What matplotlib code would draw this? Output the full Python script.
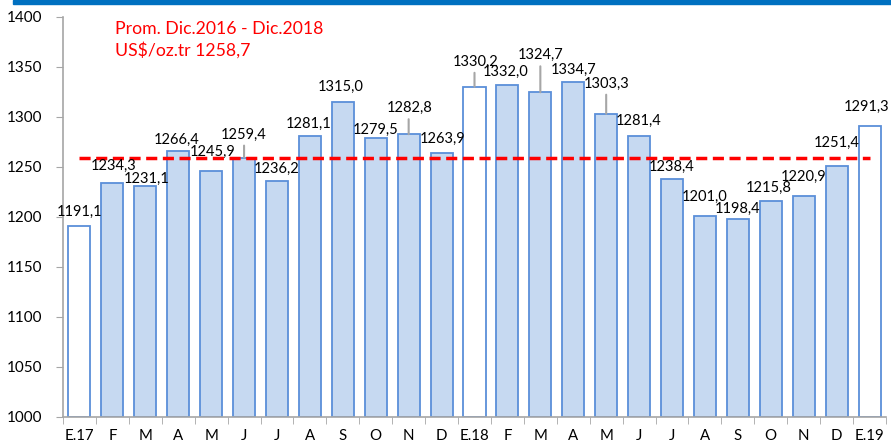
import numpy as np
import matplotlib
matplotlib.use("Agg")
import matplotlib.pyplot as plt
from matplotlib.patches import Rectangle

plt.rcParams["font.family"] = ["Lato", "DejaVu Sans"]

meses = ["E.17", "F", "M", "A", "M", "J", "J", "A", "S", "O", "N", "D",
         "E.18", "F", "M", "A", "M", "J", "J", "A", "S", "O", "N", "D", "E.19"]
precios = [1191.1, 1234.3, 1231.1, 1266.4, 1245.9, 1259.4, 1236.2, 1281.1,
           1315.0, 1279.5, 1282.8, 1263.9, 1330.2, 1332.0, 1324.7, 1334.7,
           1303.3, 1281.4, 1238.4, 1201.0, 1198.4, 1215.8, 1220.9, 1251.4,
           1291.3]
promedio = 1258.7

# posicion de las etiquetas (pixeles respecto al tope de la barra)
lab_dx = [0, 1, 1, -2, 1, 0, 0, -1, -2, 0, 1, 1, 1, -2, 0, 0, 0, 0, 0, 0, 0, -2, 0, 0, -3]
lab_dy = [14, 17, 7, 11, 19, 23, 12, 12, 15, 8, 26, 14, 25, 13, 37, 12, 30, 15, 12, 19, 10, 13, 19, 23, 19]
guia = [5, 10, 12, 14, 16]

fig = plt.figure(figsize=(8.91, 4.43), dpi=100)
ax = fig.add_axes([63/891, 1 - 417/443, (886 - 63)/891, 400/443])

fig.patches.append(Rectangle((13/891, 1 - 4/443), 1, 4/443, transform=fig.transFigure,
                             color="#0070C0", zorder=5))

x = np.arange(len(meses))
colores = ["white" if m.startswith("E.") else "#C6D9F1" for m in meses]
ax.bar(x, np.array(precios) - 1000, bottom=1000, width=0.67, color=colores,
       edgecolor="#5B8FD9", linewidth=1.3, zorder=2)

ax.plot([x[0], x[-1]], [promedio, promedio], color="#FF0000", lw=2.5,
        dashes=(3.2, 1.6), zorder=3)

for i, v in enumerate(precios):
    txt = f"{v:.1f}".replace(".", ",")
    ax.annotate(txt, (x[i], v), xytext=(lab_dx[i], lab_dy[i]), textcoords="offset pixels",
                ha="center", va="center", fontsize=10.5, color="#000000", zorder=4)
    if i in guia:
        ax.annotate("", (x[i], v), xytext=(0, lab_dy[i] - 11), textcoords="offset pixels",
                    arrowprops=dict(arrowstyle="-", color="#A6A6A6", lw=1.5,
                                    shrinkA=0, shrinkB=0))

ax.text((115 - 63)/823, 0.97, "Prom. Dic.2016 - Dic.2018", transform=ax.transAxes,
        color="#FF0000", fontsize=12.7, va="center", ha="left")
ax.text((115 - 63)/823, 0.9175, "US$/oz.tr 1258,7", transform=ax.transAxes,
        color="#FF0000", fontsize=12.7, va="center", ha="left")

ax.set_xlim(-0.5, len(meses) - 0.5)
ax.set_ylim(1000, 1400)
ax.set_yticks(np.arange(1000, 1401, 50))
ax.set_xticks(x)
ax.set_xticklabels(meses)
ax.set_xticks(np.arange(-0.5, len(meses)), minor=True)
ax.tick_params(axis="x", which="major", length=0, pad=9, labelsize=10.8)
ax.tick_params(axis="x", which="minor", length=5, color="#A6A6A6", direction="out")
ax.tick_params(axis="y", length=5, color="#A6A6A6", pad=10, labelsize=11)

for s in ["top", "right"]:
    ax.spines[s].set_visible(False)
for s in ["left", "bottom"]:
    ax.spines[s].set_color("#A6A6A6")
    ax.spines[s].set_linewidth(1.2)

fig.savefig("out.png", dpi=100)
